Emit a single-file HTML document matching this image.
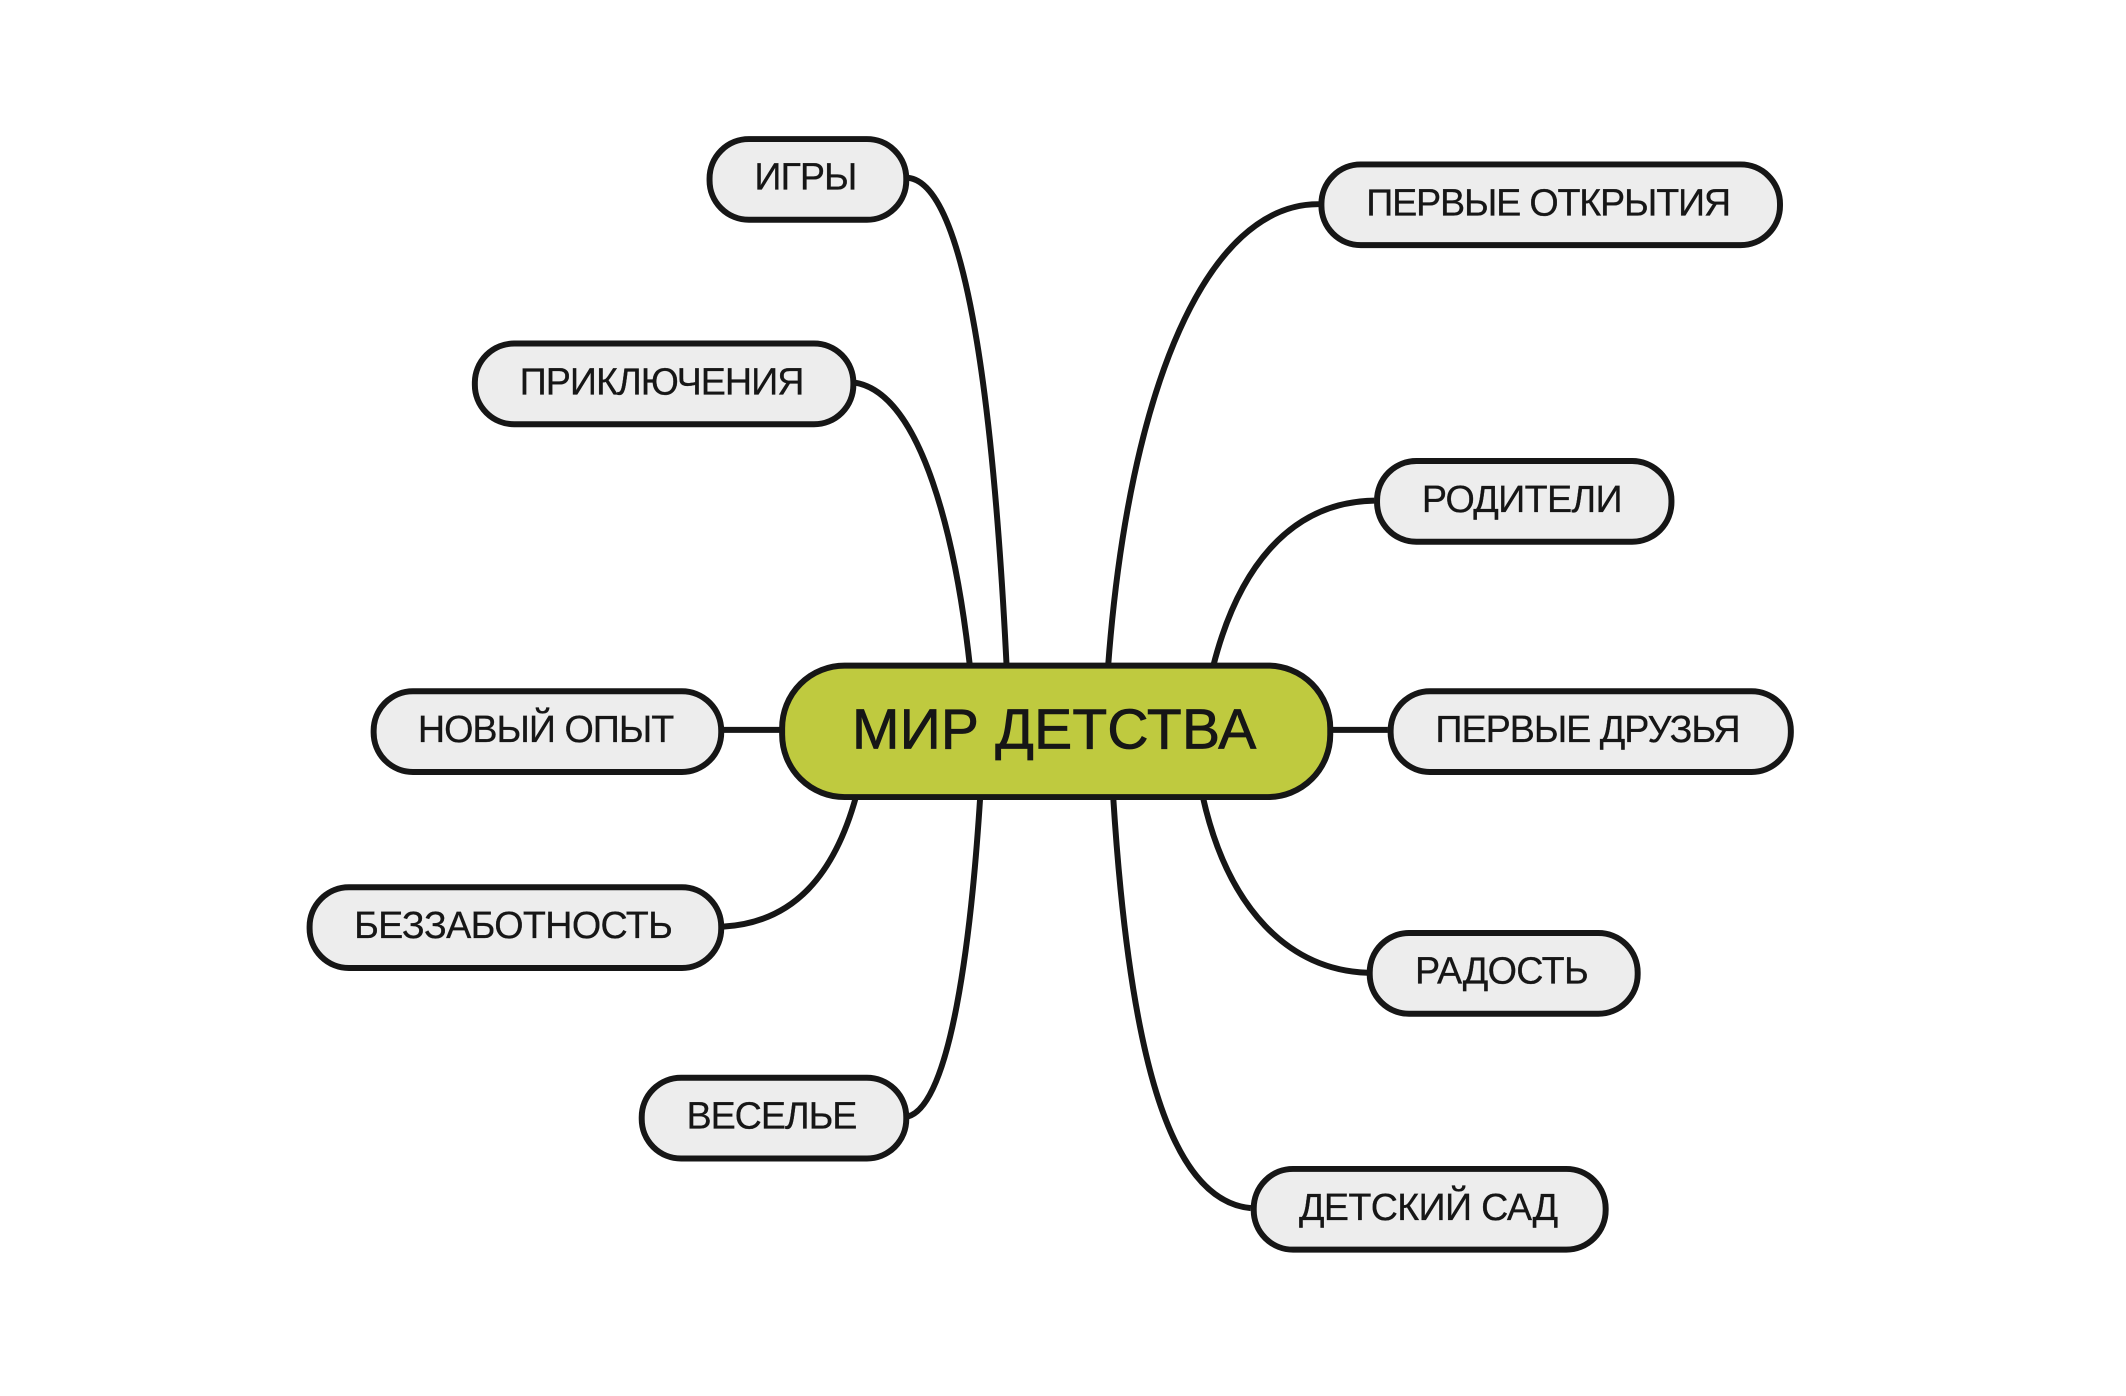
<!DOCTYPE html>
<html lang="ru">
<head>
<meta charset="utf-8">
<title>Мир детства</title>
<style>
html,body{margin:0;padding:0;background:#fff;width:2126px;height:1396px;overflow:hidden}
svg{display:block}
text{font-family:"Liberation Sans",sans-serif;fill:#161616;text-anchor:middle;stroke:#161616}
.n rect{fill:#ededed;stroke:#161616;stroke-width:4.4}
.n text{font-size:27.8px;stroke-width:.2}
path{fill:none;stroke:#161616;stroke-width:4.4}
</style>
</head>
<body>
<svg width="2126" height="1396" viewBox="0 0 2126 1396" xmlns="http://www.w3.org/2000/svg">
<rect width="2126" height="1396" fill="#fff"/>
<g transform="scale(1.3567)">
<path d="M669 131C716 135 734 330 742 492"/>
<path d="M630 282C680 290 705 400 715 492"/>
<path d="M533 538H578"/>
<path d="M533 683C585 680 615 645 631 587"/>
<path d="M669 823C701 815 716 690 722.500 587"/>
<path d="M972 150.500C890 150 832 285 816.700 492"/>
<path d="M1013 369C950 370 912 420 894 492"/>
<path d="M980 538H1023"/>
<path d="M1008 717C950 715 905 670 886.500 587"/>
<path d="M922 890.500C860 885 832 770 820.500 587"/>

<rect x="576.500" y="490.600" width="404" height="96.900" rx="46" fill="#bfca3f" stroke="#161616" stroke-width="4.4"/>
<text x="777" y="551.800" font-size="42px" stroke-width=".6" textLength="298" lengthAdjust="spacing">МИР ДЕТСТВА</text>

<g class="n"><rect x="523" y="102.500" width="145" height="59.500" rx="29"/><text x="594" y="139.700" textLength="76">ИГРЫ</text></g>
<g class="n"><rect x="350" y="253.200" width="279" height="59.500" rx="29"/><text x="488" y="290.700" textLength="210">ПРИКЛЮЧЕНИЯ</text></g>
<g class="n"><rect x="275.400" y="509.500" width="256.200" height="59.500" rx="29"/><text x="402.500" y="547" textLength="189">НОВЫЙ ОПЫТ</text></g>
<g class="n"><rect x="228.200" y="654" width="303.400" height="59.500" rx="29"/><text x="378.500" y="691.500" textLength="235">БЕЗЗАБОТНОСТЬ</text></g>
<g class="n"><rect x="473" y="794.400" width="195" height="59.500" rx="29"/><text x="569" y="831.700" textLength="126">ВЕСЕЛЬЕ</text></g>
<g class="n"><rect x="974" y="121.200" width="338" height="59.500" rx="29"/><text x="1141.500" y="159" textLength="269">ПЕРВЫЕ ОТКРЫТИЯ</text></g>
<g class="n"><rect x="1015" y="339.800" width="217" height="59.500" rx="29"/><text x="1122" y="377.500" textLength="148">РОДИТЕЛИ</text></g>
<g class="n"><rect x="1025" y="509.500" width="295" height="59.500" rx="29"/><text x="1170.500" y="547" textLength="225">ПЕРВЫЕ ДРУЗЬЯ</text></g>
<g class="n"><rect x="1009.600" y="687.700" width="197.500" height="59.500" rx="29"/><text x="1107" y="725" textLength="128">РАДОСТЬ</text></g>
<g class="n"><rect x="924.100" y="861.600" width="259.400" height="59.500" rx="29"/><text x="1053" y="899.300" textLength="191">ДЕТСКИЙ САД</text></g>
</g>
</svg>
</body>
</html>
